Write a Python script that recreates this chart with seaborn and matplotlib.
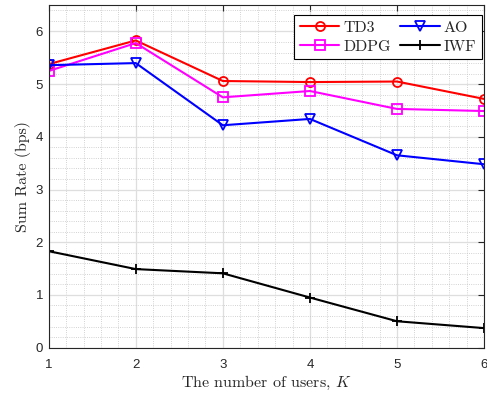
import matplotlib
matplotlib.use("Agg")
import matplotlib.pyplot as plt
import pandas as pd
import numpy as np
import seaborn as sns
from matplotlib.ticker import MultipleLocator

users = [1, 2, 3, 4, 5, 6]
td3 = [5.38, 5.83, 5.06, 5.04, 5.05, 4.72]
ddpg = [5.25, 5.78, 4.75, 4.87, 4.53, 4.49]
ao = [5.36, 5.40, 4.22, 4.34, 3.65, 3.48]
iwf = [1.83, 1.49, 1.41, 0.95, 0.50, 0.37]

sns.set_style("white")
plt.rcParams['mathtext.fontset'] = 'cm'
plt.rcParams['axes.unicode_minus'] = False
plt.rcParams['font.family'] = ['Liberation Sans', 'DejaVu Sans']

fig, ax = plt.subplots(figsize=(4.87, 3.95), dpi=100)

series = [
    ('TD3', td3, 'red', 'o'),
    ('DDPG', ddpg, 'magenta', 's'),
    ('AO', ao, 'blue', 'v'),
    ('IWF', iwf, 'black', '+'),
]
for name, vals, col, mk in series:
    sns.lineplot(x=users, y=vals, ax=ax, color=col, marker=mk, label=name,
                 linewidth=1.5, markersize=6.5 if mk != '+' else 7.5,
                 markerfacecolor='none', markeredgecolor=col, markeredgewidth=1.3)

ax.set_xlim(1, 6)
ax.set_ylim(0, 6.5)
ax.xaxis.set_major_locator(MultipleLocator(1))
ax.yaxis.set_major_locator(MultipleLocator(1))
ax.xaxis.set_minor_locator(MultipleLocator(0.2))
ax.yaxis.set_minor_locator(MultipleLocator(0.2))
ax.grid(which='major', color='#dedede', linewidth=0.9)
ax.grid(which='minor', color='#c4c4c4', linestyle=':', linewidth=0.6)
ax.tick_params(which='both', direction='in', top=True, right=True, labelsize=9.5, colors='#262626')
ax.tick_params(which='major', length=4)
ax.tick_params(which='minor', length=0)
ax.tick_params(axis='x', pad=8)
ax.tick_params(axis='y', pad=4)
for s in ax.spines.values():
    s.set_color('#262626')
    s.set_linewidth(0.8)

ax.set_xlabel('The number of users, $K$', family='cmr10', fontsize=11.5, labelpad=2)
ax.set_ylabel('Sum Rate (bps)', family='cmr10', fontsize=11.5, labelpad=3)

leg = ax.legend(ncol=2, loc='upper right', bbox_to_anchor=(0.995, 0.971),
                prop={'family': 'cmr10', 'size': 11.5},
                frameon=True, fancybox=False, edgecolor='black', framealpha=1,
                handlelength=2.5, columnspacing=0.55, borderpad=0.35, labelspacing=0.3,
                handletextpad=0.25, borderaxespad=0)
leg.get_frame().set_linewidth(0.8)

plt.subplots_adjust(left=0.1, right=0.994, top=0.987, bottom=0.12)
plt.savefig('out.png', dpi=100)
